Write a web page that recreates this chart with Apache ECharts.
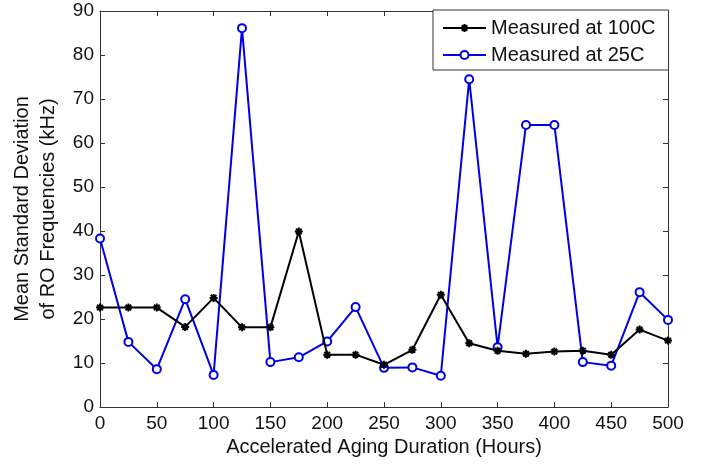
<!DOCTYPE html>
<html>
<head>
<meta charset="utf-8">
<script src="https://cdn.jsdelivr.net/npm/echarts@6/dist/echarts.min.js"></script>
<style>
	html,body{margin:0;padding:0;background:#fff;}
	#chart{width:710px;height:466px;}
</style>
</head>
<body>
<div id="chart"></div>
<script>
var hours = [0,25,50,75,100,125,150,175,200,225,250,275,300,325,350,375,400,425,450,475,500];
var at100C = [22.6,22.6,22.6,18.2,24.8,18.1,18.1,39.9,11.9,11.9,9.6,13.0,25.5,14.5,12.8,12.1,12.6,12.8,11.9,17.6,15.1];
var at25C = [38.3,14.8,8.6,24.5,7.3,86.1,10.2,11.3,14.9,22.7,8.9,9.0,7.1,74.5,13.6,64.1,64.1,10.2,9.4,26.1,19.8];
var xTicks = [0,50,100,150,200,250,300,350,400,450,500];
var yTicks = [0,10,20,30,40,50,60,70,80,90];
var seriesNames = ['Measured at 100C','Measured at 25C'];

function pairs(xs,ys){
	var out = [];
	for(var i=0;i<xs.length;i++){ out.push([xs[i],ys[i]]); }
	return out;
}

function agingChart(idName){
	var chart = echarts.init(document.getElementById(idName));
	var font = 'Arial, "Liberation Sans", sans-serif';
	var axisColor = '#333';
	var xStep = xTicks[1]-xTicks[0];
	var yStep = yTicks[1]-yTicks[0];

	var baseX = {
		type:'value',
		min:xTicks[0], max:xTicks[xTicks.length-1], interval:xStep,
		axisLine:{show:true,onZero:false,lineStyle:{color:axisColor,width:1}},
		axisTick:{show:true,inside:true,length:5,lineStyle:{color:axisColor}},
		splitLine:{show:false}
	};
	var baseY = {
		type:'value',
		min:yTicks[0], max:yTicks[yTicks.length-1], interval:yStep,
		axisLine:{show:true,onZero:false,lineStyle:{color:axisColor,width:1}},
		axisTick:{show:true,inside:true,length:5,lineStyle:{color:axisColor}},
		splitLine:{show:false}
	};

	var option = {
		backgroundColor:'#fff',
		animation:false,
		textStyle:{fontFamily:font},
		grid:{left:100,right:42,top:11,bottom:59,containLabel:false},
		legend:{
			data:seriesNames,
			orient:'vertical',
			left:433, top:10,
			padding:[8,13,5,9],
			itemWidth:43, itemHeight:10, itemGap:7,
			backgroundColor:'#fff',
			borderColor:axisColor, borderWidth:1,
			textStyle:{fontFamily:font,fontSize:20,color:'#111',lineHeight:20}
		},
		xAxis:[
			Object.assign({}, baseX, {
				position:'bottom',
				name:'Accelerated Aging Duration (Hours)',
				nameLocation:'middle', nameGap:24,
				nameTextStyle:{fontFamily:font,fontSize:20,color:'#111'},
				axisLabel:{fontFamily:font,fontSize:19,color:'#111',margin:7}
			}),
			Object.assign({}, baseX, {position:'top',axisLabel:{show:false}})
		],
		yAxis:[
			Object.assign({}, baseY, {
				position:'left',
				name:'Mean Standard Deviation\nof RO Frequencies (kHz)',
				nameLocation:'middle', nameGap:35, nameRotate:90,
				nameTextStyle:{fontFamily:font,fontSize:20,color:'#111',lineHeight:26},
				axisLabel:{fontFamily:font,fontSize:19,color:'#111',margin:6}
			}),
			Object.assign({}, baseY, {position:'right',axisLabel:{show:false}})
		],
		series:[
			{
				name:seriesNames[0],
				type:'line',
				data:pairs(hours,at100C),
				symbol:'path://M0,-5L0,5M-5,0L5,0M-3.5,-3.5L3.5,3.5M-3.5,3.5L3.5,-3.5',
				symbolSize:8,
				lineStyle:{color:'#000',width:2},
				itemStyle:{color:'#000',borderColor:'#000',borderWidth:2},
				z:3
			},
			{
				name:seriesNames[1],
				type:'line',
				data:pairs(hours,at25C),
				symbol:'emptyCircle',
				symbolSize:8,
				lineStyle:{color:'#0000e6',width:2},
				itemStyle:{color:'#0000e6',borderColor:'#0000e6',borderWidth:1.5},
				z:2
			}
		]
	};

	chart.setOption(option);
}

agingChart('chart');
</script>
</body>
</html>
